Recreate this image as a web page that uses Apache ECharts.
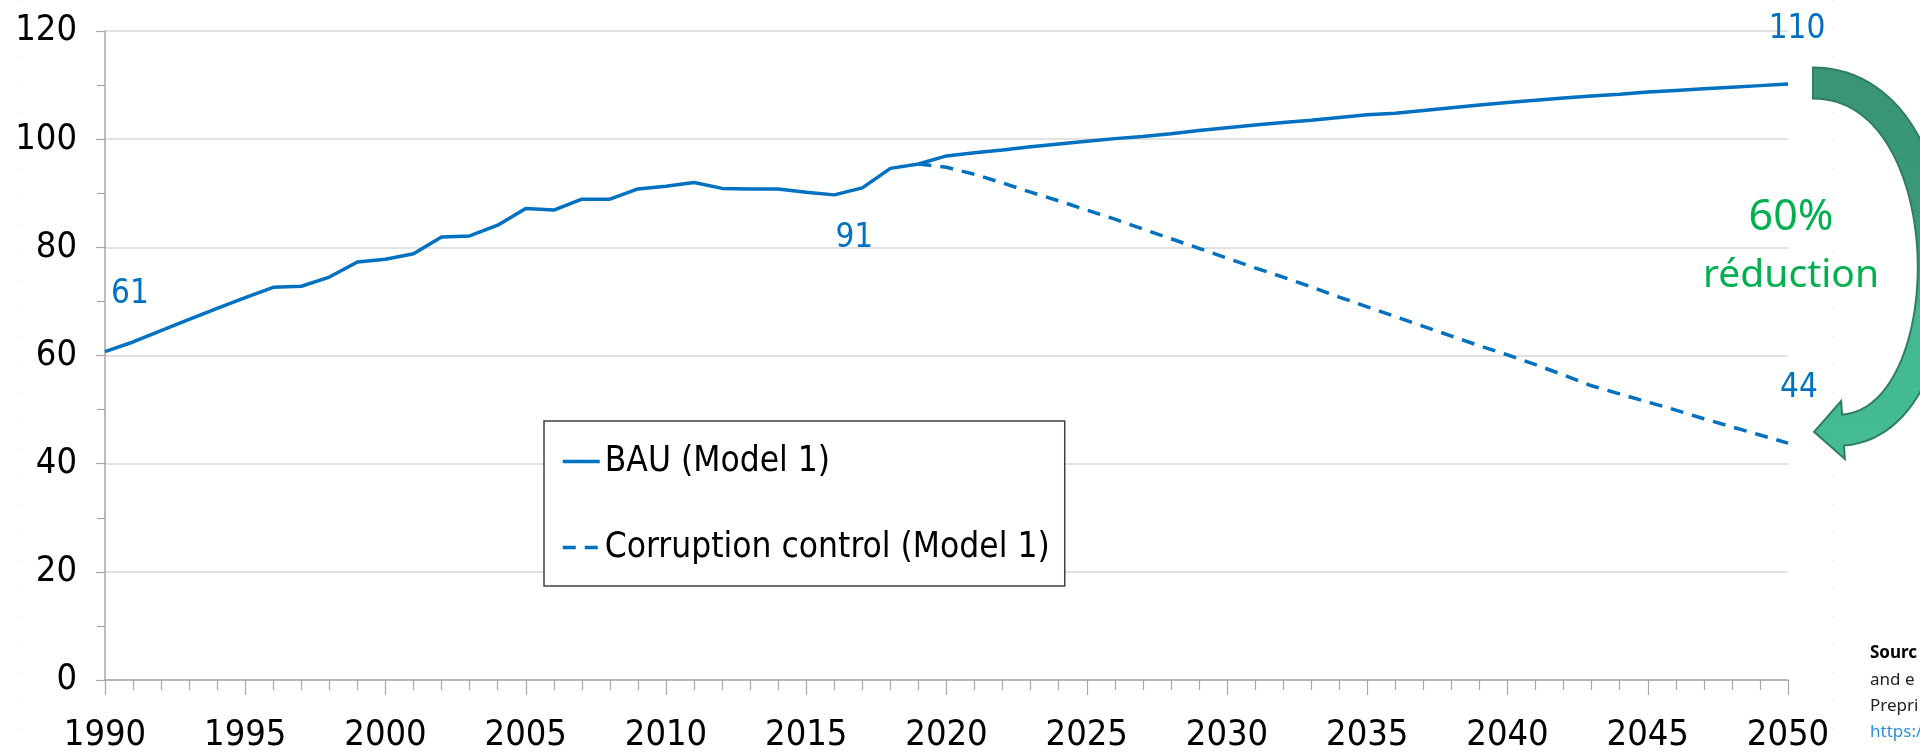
<!DOCTYPE html>
<html>
<head>
<meta charset="utf-8">
<script src="https://cdn.jsdelivr.net/npm/echarts@6/dist/echarts.min.js"></script>
<style>
    html, body { margin: 0; padding: 0; background: #fff; }
    #chart { width: 1920px; height: 755px; }
</style>
</head>
<body>
<div id="chart"></div>
<script>
// BAU (Model 1), one value per year from 1990 to 2050
const bauStart = 1990
const bauValues = [
    60.7, 62.5, 64.6, 66.7, 68.7, 70.7, 72.6, 72.8, 74.5, 77.3,
    77.8, 78.8, 81.9, 82.1, 84.1, 87.2, 86.9, 88.9, 88.9, 90.8,
    91.3, 92.0, 90.9, 90.8, 90.8, 90.2, 89.7, 91.0, 94.6, 95.4,
    96.9, 97.5, 98.0, 98.6, 99.1, 99.6, 100.1, 100.5, 101.0, 101.6,
    102.1, 102.6, 103.1, 103.5, 104.0, 104.5, 104.8, 105.3, 105.8, 106.3,
    106.8, 107.2, 107.6, 108.0, 108.3, 108.7, 109.0, 109.3, 109.6, 109.9,
    110.2
]
// Corruption control (Model 1), from 2019 to 2050
const ctrlStart = 2019
const ctrlValues = [
    95.4, 94.8, 93.5, 91.9, 90.2, 88.6, 86.9, 85.2, 83.4, 81.6,
    79.8, 78.0, 76.2, 74.5, 72.7, 70.8, 69.0, 67.2, 65.4, 63.6,
    61.8, 60.1, 58.3, 56.4, 54.4, 52.9, 51.4, 49.9, 48.3, 46.8,
    45.3, 43.8
]
const seriesNames = ['BAU (Model 1)', 'Corruption control (Model 1)']
const bauLabelYears = [1990, 2017, 2050]
const ctrlLabelYears = [2050]

const blue = '#0070C0'
const narrow = '"Liberation Sans Narrow", "DejaVu Sans Condensed", "Liberation Sans", sans-serif'
const axisGrey = '#a6a6a6'

// label placement per labelled year
const labelPlace = {
    bau: {
        1990: { position: 'top', offset: [25, -36] },
        2017: { position: 'bottom', offset: [-8, 29] },
        2050: { position: 'top', offset: [9, -33] }
    },
    ctrl: {
        2050: { position: 'top', offset: [11, -33] }
    }
}

function buildData(start, values, labelYears, place) {
    return values.map((v, i) => {
        let year = start + i
        if (labelYears.indexOf(year) >= 0) {
            return {
                value: [year, v],
                label: Object.assign({
                    show: true,
                    formatter: String(Math.round(v)),
                    fontFamily: narrow,
                    fontSize: 33,
                    color: blue
                }, place[year])
            }
        }
        return [year, v]
    })
}

// curved arrow on the right (decoration): a cubic curve with a thick band and a head
function arrowPoints() {
    let p0 = [1813, 83], p1 = [1968, 83], p2 = [1968, 422], p3 = [1843, 430]
    let half = 15.5, head = 29, headLen = 29
    function pt(t) {
        let u = 1 - t
        return [
            u * u * u * p0[0] + 3 * u * u * t * p1[0] + 3 * u * t * t * p2[0] + t * t * t * p3[0],
            u * u * u * p0[1] + 3 * u * u * t * p1[1] + 3 * u * t * t * p2[1] + t * t * t * p3[1]
        ]
    }
    function dir(t) {
        let u = 1 - t
        let dx = 3 * u * u * (p1[0] - p0[0]) + 6 * u * t * (p2[0] - p1[0]) + 3 * t * t * (p3[0] - p2[0])
        let dy = 3 * u * u * (p1[1] - p0[1]) + 6 * u * t * (p2[1] - p1[1]) + 3 * t * t * (p3[1] - p2[1])
        let l = Math.hypot(dx, dy)
        return [dx / l, dy / l]
    }
    let steps = 60
    let outer = [], inner = []
    for (let k = 0; k <= steps; k++) {
        let t = k / steps
        let p = pt(t), d = dir(t)
        let n = [d[1], -d[0]]
        outer.push([p[0] + half * n[0], p[1] + half * n[1]])
        inner.push([p[0] - half * n[0], p[1] - half * n[1]])
    }
    let d = dir(1)
    let n = [d[1], -d[0]]
    let pts = outer.slice()
    pts.push([p3[0] + head * n[0], p3[1] + head * n[1]])
    pts.push([p3[0] + headLen * d[0], p3[1] + headLen * d[1]])
    pts.push([p3[0] - head * n[0], p3[1] - head * n[1]])
    return pts.concat(inner.reverse())
}

let option = {
    backgroundColor: '#fff',
    animation: false,
    grid: {
        left: 105,
        right: 132,
        top: 31,
        bottom: 75
    },
    legend: {
        orient: 'vertical',
        left: 544,
        top: 421,
        padding: [23, 15, 21, 17],
        itemGap: 51,
        itemWidth: 37,
        itemHeight: 14,
        backgroundColor: '#fff',
        borderColor: '#404040',
        borderWidth: 1.5,
        itemStyle: { opacity: 0 },
        lineStyle: { width: 3.5 },
        textStyle: {
            fontFamily: narrow,
            fontSize: 35,
            color: '#000'
        },
        data: seriesNames
    },
    xAxis: {
        type: 'value',
        min: 1990,
        max: 2050,
        interval: 5,
        axisLine: {
            show: true,
            lineStyle: { color: axisGrey, width: 1.5 }
        },
        axisTick: {
            show: true,
            length: 15,
            lineStyle: { color: axisGrey, width: 1.2 }
        },
        minorTick: {
            show: true,
            splitNumber: 5,
            length: 10,
            lineStyle: { color: axisGrey, width: 1.2 }
        },
        splitLine: { show: false },
        axisLabel: {
            fontFamily: narrow,
            fontSize: 36,
            color: '#000',
            margin: 38,
            formatter: v => String(v)
        }
    },
    yAxis: {
        type: 'value',
        min: 0,
        max: 120,
        interval: 20,
        axisLine: {
            show: true,
            lineStyle: { color: axisGrey, width: 1.5 }
        },
        axisTick: {
            show: true,
            length: 9,
            lineStyle: { color: axisGrey, width: 1.2 }
        },
        minorTick: {
            show: true,
            splitNumber: 2,
            length: 8,
            lineStyle: { color: axisGrey, width: 1.2 }
        },
        splitLine: {
            show: true,
            lineStyle: { color: '#d9d9d9', width: 1.5 }
        },
        axisLabel: {
            fontFamily: narrow,
            fontSize: 36,
            color: '#000',
            margin: 28
        }
    },
    series: [
        {
            name: seriesNames[1],
            type: 'line',
            symbol: 'circle',
            symbolSize: 0,
            showSymbol: true,
            lineStyle: { color: blue, width: 3.5, type: [13, 9] },
            itemStyle: { color: blue },
            label: { show: false },
            data: buildData(ctrlStart, ctrlValues, ctrlLabelYears, labelPlace.ctrl)
        },
        {
            name: seriesNames[0],
            type: 'line',
            symbol: 'circle',
            symbolSize: 0,
            showSymbol: true,
            lineStyle: { color: blue, width: 3.5 },
            itemStyle: { color: blue },
            label: { show: false },
            data: buildData(bauStart, bauValues, bauLabelYears, labelPlace.bau)
        }
    ],
    graphic: [
        {
            type: 'line',
            silent: true,
            shape: { x1: 18, y1: 0, x2: 18, y2: 755 },
            style: { stroke: '#d6d6d6', lineWidth: 1, lineDash: [1, 27] }
        },
        {
            type: 'line',
            silent: true,
            shape: { x1: 1833, y1: 0, x2: 1833, y2: 755 },
            style: { stroke: '#d6d6d6', lineWidth: 1, lineDash: [1, 27] }
        },
        {
            type: 'polygon',
            z: 10,
            silent: true,
            shape: { points: arrowPoints() },
            style: {
                fill: new echarts.graphic.LinearGradient(0, 0, 0, 1, [
                    { offset: 0, color: '#3A9477' },
                    { offset: 0.5, color: '#3B9A7B' },
                    { offset: 0.62, color: '#43B892' },
                    { offset: 1, color: '#45BC96' }
                ]),
                stroke: '#2F7D63',
                lineWidth: 2
            }
        },
        {
            type: 'text',
            z: 11,
            x: 1791,
            y: 218,
            style: {
                text: '60%',
                fill: '#00B050',
                font: '43px "Noto Sans"',
                align: 'center',
                verticalAlign: 'middle'
            }
        },
        {
            type: 'text',
            z: 11,
            x: 1791,
            y: 276,
            style: {
                text: 'réduction',
                fill: '#00B050',
                font: '39px "Noto Sans"',
                align: 'center',
                verticalAlign: 'middle'
            }
        },
        {
            type: 'text',
            x: 1870,
            y: 653,
            style: { text: 'Sourc', fill: '#000', font: 'bold 17px "Noto Sans"', verticalAlign: 'middle' }
        },
        {
            type: 'text',
            x: 1870,
            y: 680,
            style: { text: 'and e', fill: '#222', font: '17px "Noto Sans"', verticalAlign: 'middle' }
        },
        {
            type: 'text',
            x: 1870,
            y: 706,
            style: { text: 'Prepri', fill: '#222', font: '17px "Noto Sans"', verticalAlign: 'middle' }
        },
        {
            type: 'text',
            x: 1870,
            y: 732,
            style: { text: 'https:/', fill: '#2F8FDD', font: '17px "Noto Sans"', verticalAlign: 'middle' }
        }
    ]
}

var myChart = echarts.init(document.getElementById('chart'))
myChart.setOption(option)
</script>
</body>
</html>
